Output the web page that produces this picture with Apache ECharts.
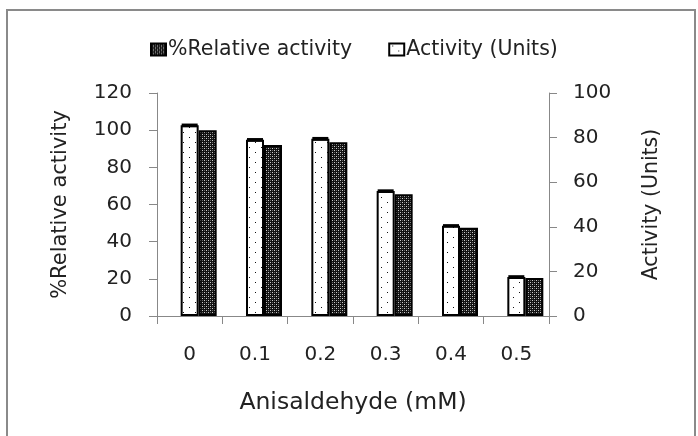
<!DOCTYPE html>
<html><head><meta charset="utf-8">
<script src="https://cdn.jsdelivr.net/npm/echarts@6/dist/echarts.min.js"></script>
<style>html,body{margin:0;padding:0;background:#fff}#c{width:698px;height:436px}</style>
</head><body><div id="c"></div>
<script>
const categories = ['0', '0.1', '0.2', '0.3', '0.4', '0.5'];
const relativeActivity = [100, 92, 93.5, 65.5, 47.5, 20.5];
const activityUnits = [85.5, 79, 79.5, 56, 40.5, 17.5];
const activityError = [0.8, 0.8, 0.8, 0.8, 0.7, 0.8];
const leftTicks = [0, 20, 40, 60, 80, 100, 120];
const rightTicks = [0, 20, 40, 60, 80, 100];

function makePattern(w, h, bg, dots) {
  const c = document.createElement('canvas');
  c.width = w; c.height = h;
  const g = c.getContext('2d');
  g.fillStyle = bg; g.fillRect(0, 0, w, h);
  dots.forEach(d => { g.fillStyle = d[2]; g.fillRect(d[0], d[1], 1, 1); });
  return { image: c, repeat: 'repeat' };
}
const dottedFill = makePattern(12, 10, '#ffffff', [[3, 2, '#111'], [9, 7, '#111']]);
const darkFill = makePattern(4, 4, '#111111', [[0, 0, '#ccc'], [2, 2, '#ccc'], [0, 2, '#666'], [2, 0, '#666']]);

const FONT = 'DejaVu Sans';
const TXT = '#222';
const BW = 18;
const chart = echarts.init(document.getElementById('c'));
chart.setOption({
  animation: false,
  textStyle: { fontFamily: FONT },
  graphic: [{ type: 'rect', shape: { x: 7, y: 10, width: 688, height: 440 }, style: { fill: 'none', stroke: '#8a8a8a', lineWidth: 2 }, silent: true }],
  legend: {
    top: 34, left: 145, itemWidth: 15, itemHeight: 12, itemGap: 36, icon: 'rect',
    data: ['%Relative activity', 'Activity (Units)'],
    textStyle: { fontFamily: FONT, fontSize: 20.5, color: TXT, padding: [0, 0, 0, -3] }
  },
  grid: { left: 157, right: 149, top: 93, bottom: 120 },
  xAxis: {
    type: 'category', data: categories,
    axisLine: { lineStyle: { color: '#888', width: 1 } },
    axisTick: { show: true, length: 8, lineStyle: { color: '#888' } },
    axisLabel: { fontFamily: FONT, fontSize: 20, color: TXT, margin: 29 },
    name: 'Anisaldehyde (mM)', nameLocation: 'middle', nameGap: 75,
    nameTextStyle: { fontFamily: FONT, fontSize: 23.5, color: TXT }
  },
  yAxis: [{
    type: 'value', min: leftTicks[0], max: leftTicks[leftTicks.length - 1], interval: 20,
    axisLine: { show: true, lineStyle: { color: '#888' } },
    axisTick: { show: true, length: 8, lineStyle: { color: '#888' } },
    splitLine: { show: false },
    axisLabel: { fontFamily: FONT, fontSize: 20, color: TXT, margin: 25 },
    name: '%Relative activity', nameLocation: 'middle', nameGap: 86, nameRotate: 90,
    nameTextStyle: { fontFamily: FONT, fontSize: 21, color: TXT }
  }, {
    type: 'value', min: rightTicks[0], max: rightTicks[rightTicks.length - 1], interval: 20,
    position: 'right',
    axisLine: { show: true, lineStyle: { color: '#888' } },
    axisTick: { show: true, length: 8, lineStyle: { color: '#888' } },
    splitLine: { show: false },
    axisLabel: { fontFamily: FONT, fontSize: 20, color: TXT, margin: 24 },
    name: 'Activity (Units)', nameLocation: 'middle', nameGap: 92, nameRotate: 90,
    nameTextStyle: { fontFamily: FONT, fontSize: 20.5, color: TXT }
  }],
  series: [{
    name: 'spacer', type: 'bar', yAxisIndex: 1, data: categories.map(() => '-'),
    barWidth: BW, barGap: '0%', silent: true
  }, {
    name: 'Activity (Units)', type: 'bar', yAxisIndex: 1, data: activityUnits,
    barWidth: BW, barGap: '0%',
    itemStyle: { color: dottedFill, borderColor: '#000', borderWidth: 2 }
  }, {
    name: '%Relative activity', type: 'bar', yAxisIndex: 0, data: relativeActivity,
    barWidth: BW, barGap: '0%',
    itemStyle: { color: darkFill, borderColor: '#000', borderWidth: 2 }
  }, {
    name: 'err', type: 'custom', yAxisIndex: 1,
    data: activityUnits.map((v, i) => [i, v, activityError[i]]),
    renderItem: function (params, api) {
      const hi = api.coord([api.value(0), api.value(1) + api.value(2)]);
      const lo = api.coord([api.value(0), api.value(1) - api.value(2)]);
      return { type: 'rect', shape: { x: hi[0] - BW / 2 + 1, y: hi[1], width: BW - 2, height: lo[1] - hi[1] }, style: { fill: '#000' } };
    },
    z: 5
  }]
});
</script></body></html>
